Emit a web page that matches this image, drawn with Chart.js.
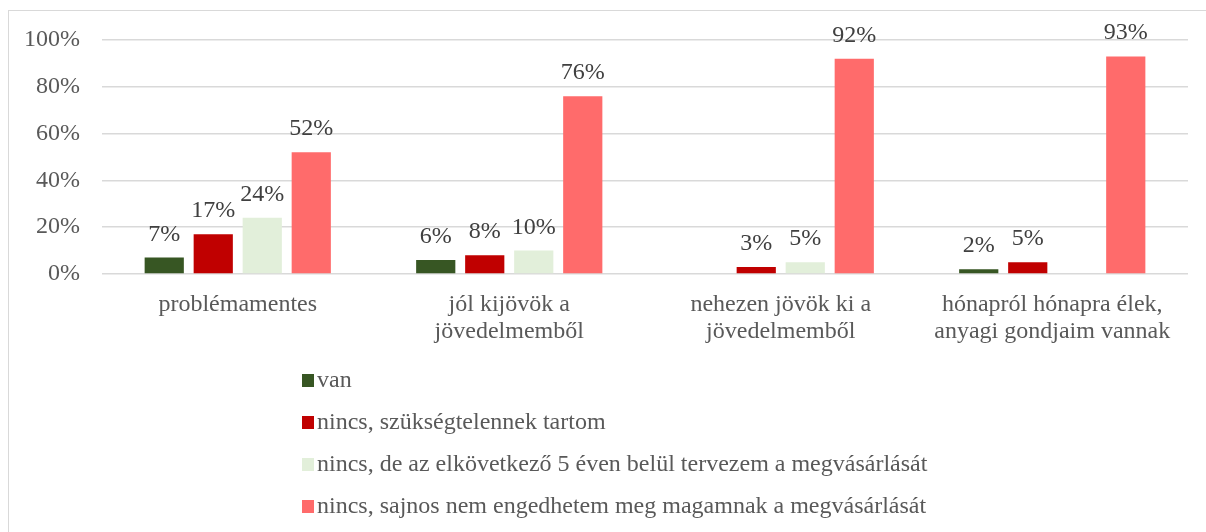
<!DOCTYPE html>
<html>
<head>
<meta charset="utf-8">
<script src="https://cdn.jsdelivr.net/npm/chart.js@4/dist/chart.umd.min.js"></script>
<style>
body { margin: 0; background: #ffffff; }
#wrap { position: relative; width: 1206px; height: 532px; }
#frame { position: absolute; left: 8px; top: 10px; width: 1210px; height: 540px; border: 1.5px solid #d9d9d9; pointer-events: none; }
</style>
</head>
<body>
<div id="wrap">
<canvas id="Income_Chart" width="1206" height="532"></canvas>
<div id="frame"></div>
</div>
<script>
const category_labels = [
    'problémamentes',
    ['jól kijövök a', 'jövedelmemből'],
    ['nehezen jövök ki a', 'jövedelmemből'],
    ['hónapról hónapra élek,', 'anyagi gondjaim vannak']
]
const series_names = [
    'van',
    'nincs, szükségtelennek tartom',
    'nincs, de az elkövetkező 5 éven belül tervezem a megvásárlását',
    'nincs, sajnos nem engedhetem meg magamnak a megvásárlását'
]
const van_data = [7, 6, null, 2]
const felesleges_data = [17, 8, 3, 5]
const tervezem_data = [24, 10, 5, null]
const nem_engedhetem_data = [52, 76, 92, 93]
const y_ticks = [0, 20, 40, 60, 80, 100]

const series_colors = ['#375623', '#c00000', '#e2efda', '#ff6b6b']
const serif_font = '"Liberation Serif", "Times New Roman", serif'

// value labels above bars
const value_labels = {
    id: 'value_labels',
    afterDatasetsDraw(chart) {
        let ctx = chart.ctx
        ctx.save()
        ctx.font = '24px ' + serif_font
        ctx.fillStyle = '#404040'
        ctx.textAlign = 'center'
        ctx.textBaseline = 'alphabetic'
        chart.data.datasets.forEach((ds, i) => {
            chart.getDatasetMeta(i).data.forEach((bar, j) => {
                if (ds.data[j] === null) return
                ctx.fillText(ds.data[j] + '%', bar.x, bar.y - 17)
            })
        })
        ctx.restore()
    }
}

// vertical legend below the axis
const side_legend = {
    id: 'side_legend',
    afterDraw(chart) {
        let ctx = chart.ctx
        ctx.save()
        ctx.font = '24px ' + serif_font
        ctx.textBaseline = 'middle'
        ctx.textAlign = 'left'
        chart.data.datasets.forEach((ds, i) => {
            let y = 380 + i * 42
            ctx.fillStyle = ds.backgroundColor
            ctx.fillRect(302, y - 6, 12, 13)
            ctx.fillStyle = '#595959'
            ctx.fillText(ds.label, 317, y + 1)
        })
        ctx.restore()
    }
}

let income_document = document.getElementById('Income_Chart').getContext('2d')

let income_chart = new Chart(income_document, {
    type: 'bar',
    data: {
        labels: category_labels,
        datasets: [
            {label: series_names[0], data: van_data, backgroundColor: series_colors[0]},
            {label: series_names[1], data: felesleges_data, backgroundColor: series_colors[1]},
            {label: series_names[2], data: tervezem_data, backgroundColor: series_colors[2]},
            {label: series_names[3], data: nem_engedhetem_data, backgroundColor: series_colors[3]}
        ]
    },
    options: {
        responsive: false,
        animation: false,
        layout: {padding: {top: 40, right: 18, left: 0, bottom: 0}},
        datasets: {bar: {categoryPercentage: 0.722, barPercentage: 0.8, borderWidth: 0}},
        plugins: {legend: {display: false}, tooltip: {enabled: false}},
        scales: {
            x: {
                grid: {display: false, drawTicks: false},
                border: {display: false},
                ticks: {color: '#595959', padding: 18, font: {family: serif_font, size: 24, lineHeight: 1.1}},
                afterFit: function(scale) { scale.height = 258 }
            },
            y: {
                min: 0,
                max: 100,
                afterBuildTicks: function(scale) { scale.ticks = y_ticks.map(v => ({value: v})) },
                grid: {color: '#d9d9d9', lineWidth: 1.5, drawTicks: false},
                border: {display: false},
                ticks: {
                    color: '#595959',
                    padding: 22,
                    font: {family: serif_font, size: 24},
                    callback: function(value) { return value + '%' }
                },
                afterFit: function(scale) { scale.width = 102 }
            }
        }
    },
    plugins: [value_labels, side_legend]
})
</script>
</body>
</html>
